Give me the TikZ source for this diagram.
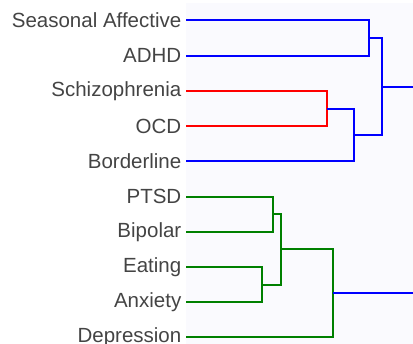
\documentclass[tikz,border=0pt]{standalone}
\usepackage{fontspec}
\setmainfont{Liberation Sans}
\definecolor{txt}{RGB}{68,68,68}
\definecolor{plotbg}{RGB}{250,250,254}
\definecolor{dblue}{RGB}{0,0,255}
\definecolor{dred}{RGB}{255,0,0}
\definecolor{dgreen}{RGB}{0,128,0}
\begin{document}
\begin{tikzpicture}[x=1pt,y=-1pt,
  leaflabel/.style={anchor=east,inner sep=0pt,text=txt,font=\fontsize{20.5}{22}\selectfont},
  link/.style={line width=2pt,line join=miter},
  bl/.style={link,draw=dblue},
  rd/.style={link,draw=dred},
  gr/.style={link,draw=dgreen}]
\useasboundingbox (0,0) rectangle (413,344);
\clip (0,0) rectangle (413,344);
\fill[plotbg] (186,3) rectangle (413,344);
% leaf positions
\foreach \n/\t/\y in {sa/Seasonal Affective/20.5, ad/ADHD/55.7, sc/Schizophrenia/90.9, oc/OCD/126.2, bo/Borderline/161.4, pt/PTSD/196.6, bi/Bipolar/231.8, ea/Eating/267.0, an/Anxiety/302.3, de/Depression/337.5}{
  \node[leaflabel] (L\n) at (181.5,\y) {\t};
  \coordinate (\n) at (186,\y);
}
% merge coordinates
\coordinate (m1) at (369.3,38.1);   % SA + ADHD
\coordinate (m2) at (326.7,108.55); % Schizo + OCD
\coordinate (m3) at (354.3,134.98); % m2 + Borderline
\coordinate (m4) at (382.3,86.54);  % m1 + m3
\coordinate (m5) at (272.7,214.2);  % PTSD + Bipolar
\coordinate (m6) at (262.0,284.65); % Eating + Anxiety
\coordinate (m7) at (280.7,249.43); % m5 + m6
\coordinate (m8) at (333.0,293.46); % m7 + Depression
\coordinate (r1) at (420,86.54);
\coordinate (r2) at (420,293.46);
% links
\draw[bl] (sa) -- (sa -| m1) -- (ad -| m1) -- (ad);
\draw[rd] (sc) -- (sc -| m2) -- (oc -| m2) -- (oc);
\draw[bl] (m2) -- (m2 -| m3) -- (bo -| m3) -- (bo);
\draw[bl] (m1) -- (m1 -| m4) -- (m3 -| m4) -- (m3);
\draw[gr] (pt) -- (pt -| m5) -- (bi -| m5) -- (bi);
\draw[gr] (ea) -- (ea -| m6) -- (an -| m6) -- (an);
\draw[gr] (m5) -- (m5 -| m7) -- (m6 -| m7) -- (m6);
\draw[gr] (m7) -- (m7 -| m8) -- (de -| m8) -- (de);
\draw[bl] (m4) -- (r1);
\draw[bl] (m8) -- (r2);
\end{tikzpicture}
\end{document}
